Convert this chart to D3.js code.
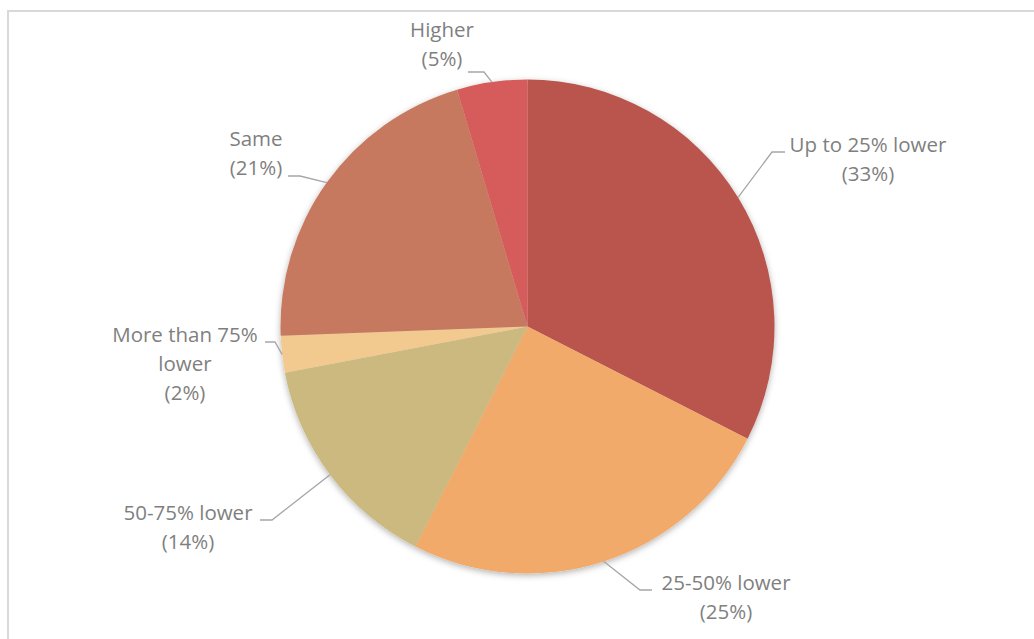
<!DOCTYPE html>
<html>
<head>
<meta charset="utf-8">
<script src="https://cdn.jsdelivr.net/npm/d3@7"></script>
<style>
  body { margin: 0; background: #fff; }
  svg { display: block; }
</style>
</head>
<body>
<svg width="1034" height="639"></svg>
<script>
// slices, clockwise from 12 o'clock
var categories = ["Up to 25% lower", "25-50% lower", "50-75% lower", "More than 75% lower", "Same", "Higher"];
var shares = [32.5, 25, 14.5, 2.4, 21, 4.6];
var labelLines = [
	["Up to 25% lower", "(33%)"],
	["25-50% lower", "(25%)"],
	["50-75% lower", "(14%)"],
	["More than 75%", "lower", "(2%)"],
	["Same", "(21%)"],
	["Higher", "(5%)"]
];
var colors = ["#B9554E", "#F2AA6A", "#CBB980", "#F2C98E", "#C77961", "#D55B5A"];

// label placement (text x, first baseline, leader elbow, leader end)
var labelLayout = [
	{tx: 868, ty: 152, elbow: [772, 152], end: [785, 152]},
	{tx: 726, ty: 590, elbow: [640, 590], end: [652, 590]},
	{tx: 188, ty: 520, elbow: [272, 520], end: [260, 520]},
	{tx: 185, ty: 342, elbow: [275, 342], end: [265, 342]},
	{tx: 256, ty: 146, elbow: [300, 176], end: [288, 176]},
	{tx: 442, ty: 37, elbow: [484, 72], end: [468, 72]}
];

var svg = d3.select("svg");
var cx = 527.5, cy = 326.5, radius = 247, lineHeight = 29;

// chart frame
svg.append("rect")
	.attr("x", 8)
	.attr("y", 11)
	.attr("width", 1100)
	.attr("height", 700)
	.attr("fill", "none")
	.attr("stroke", "#d9d9d9")
	.attr("stroke-width", 2);

var defs = svg.append("defs");
defs.append("filter")
	.attr("id", "shadow")
	.attr("x", "-20%").attr("y", "-20%")
	.attr("width", "140%").attr("height", "140%")
	.append("feDropShadow")
	.attr("dx", 0)
	.attr("dy", 2)
	.attr("stdDeviation", 3)
	.attr("flood-color", "#000")
	.attr("flood-opacity", 0.3);

var data = categories.map(function(c, i) {
	return {name: c, value: shares[i], color: colors[i], lines: labelLines[i], layout: labelLayout[i]};
});

var pie = d3.pie()
	.sort(null)
	.value(function(d) { return d.value; });

var arc = d3.arc()
	.innerRadius(0)
	.outerRadius(radius);

var arcs = pie(data);

var g = svg.append("g")
	.attr("transform", "translate(" + cx + "," + cy + ")");

g.append("g")
	.attr("filter", "url(#shadow)")
	.selectAll("path")
	.data(arcs)
	.enter().append("path")
	.attr("d", arc)
	.attr("fill", function(d) { return d.data.color; });

// leader lines start at the pie edge at each slice's mid angle
g.append("g")
	.selectAll("polyline")
	.data(arcs)
	.enter().append("polyline")
	.attr("fill", "none")
	.attr("stroke", "#a6a6a6")
	.attr("stroke-width", 1.3)
	.attr("points", function(d) {
		var a = (d.startAngle + d.endAngle) / 2;
		var p0 = [radius * Math.sin(a), -radius * Math.cos(a)];
		var L = d.data.layout;
		return [p0, [L.elbow[0] - cx, L.elbow[1] - cy], [L.end[0] - cx, L.end[1] - cy]]
			.map(function(p) { return p.join(","); }).join(" ");
	});

var labels = svg.append("g")
	.attr("font-family", "'Open Sans', 'Noto Sans', sans-serif")
	.attr("font-size", 20.5)
	.attr("fill", "#7f7f7f")
	.attr("text-anchor", "middle")
	.selectAll("text")
	.data(data)
	.enter().append("text")
	.attr("x", function(d) { return d.layout.tx; })
	.attr("y", function(d) { return d.layout.ty; });

labels.selectAll("tspan")
	.data(function(d) { return d.lines.map(function(l) { return {t: l, x: d.layout.tx}; }); })
	.enter().append("tspan")
	.attr("x", function(d) { return d.x; })
	.attr("dy", function(d, i) { return i === 0 ? 0 : lineHeight; })
	.text(function(d) { return d.t; });
</script>
</body>
</html>
